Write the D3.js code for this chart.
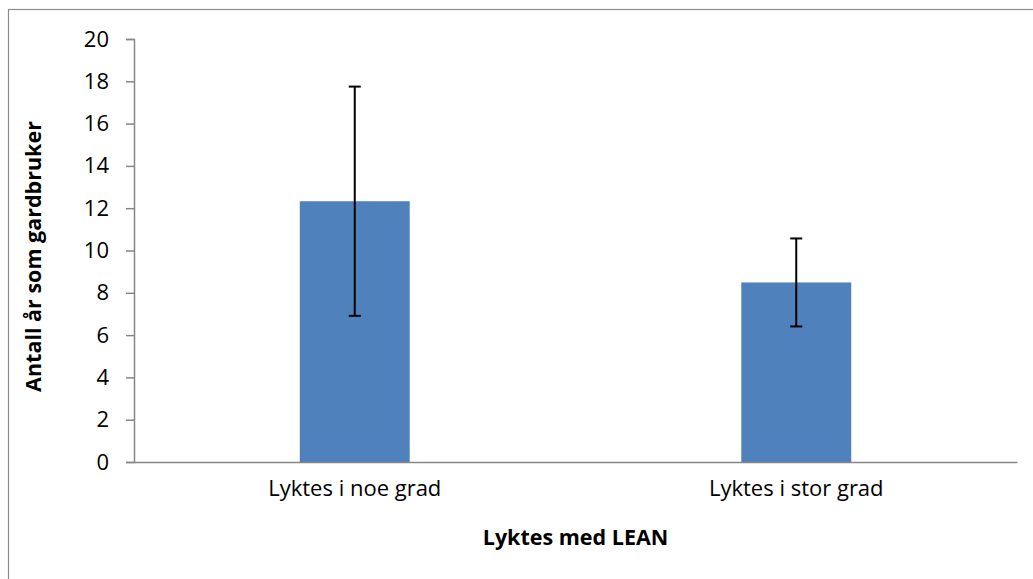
<!DOCTYPE html>
<html><head><meta charset="utf-8">
<script src="https://cdn.jsdelivr.net/npm/d3@7"></script>
<style>html,body{margin:0;padding:0;background:#fff;}svg{display:block;}</style>
</head><body>
<svg id="chart" width="1033" height="579"></svg>
<script>
const categories = ["Lyktes i noe grad", "Lyktes i stor grad"];
const means = [12.33, 8.49];
const errors = [5.42, 2.08];
const yTicks = [0, 2, 4, 6, 8, 10, 12, 14, 16, 18, 20];
const yTitle = "Antall år som gardbruker";
const xTitle = "Lyktes med LEAN";

const W = 1033, H = 579;
const m = {left: 134, right: 16, top: 39, bottom: 117};
const font = "'Open Sans', sans-serif";
const fs = 22, fsb = 21.5;
const svg = d3.select("#chart");

svg.append("rect").attr("x", 8.5).attr("y", 9.5).attr("width", W + 10).attr("height", H + 10)
  .attr("fill", "#fff").attr("stroke", "#8c8c8c").attr("stroke-width", 1.2);

const x = d3.scaleBand().domain(categories).range([m.left, W - m.right]).padding(0);
const y = d3.scaleLinear().domain([0, 20]).range([H - m.bottom, m.top]);
const barW = x.bandwidth() * 0.249;

const g = svg.append("g");

// bars
g.selectAll("rect.bar").data(categories).join("rect").attr("class", "bar")
  .attr("x", d => x(d) + x.bandwidth() / 2 - barW / 2)
  .attr("width", barW)
  .attr("y", (d, i) => y(means[i]))
  .attr("height", (d, i) => y(0) - y(means[i]))
  .attr("fill", "#4f81bd");

// y axis
const yAxis = g.append("g").attr("transform", `translate(${m.left},0)`)
  .call(d3.axisLeft(y).tickValues(yTicks).tickSize(8).tickPadding(17).tickFormat(d3.format("d")));
yAxis.select(".domain").attr("stroke", "#868686").attr("stroke-width", 1.5);
yAxis.selectAll(".tick line").attr("stroke", "#868686").attr("stroke-width", 1.5);
yAxis.selectAll(".tick text").attr("font-family", font).attr("font-size", fs).attr("fill", "#000");

// x axis
const xAxis = g.append("g").attr("transform", `translate(0,${y(0)})`)
  .call(d3.axisBottom(x).tickSize(0).tickPadding(18));
xAxis.select(".domain").attr("stroke", "#868686").attr("stroke-width", 1.5);
xAxis.selectAll(".tick text").attr("font-family", font).attr("font-size", fs).attr("fill", "#000");

// error bars
const eb = g.append("g").attr("stroke", "#000").attr("stroke-width", 2);
categories.forEach((c, i) => {
  const cx = x(c) + x.bandwidth() / 2;
  eb.append("line").attr("x1", cx).attr("x2", cx).attr("y1", y(means[i] + errors[i])).attr("y2", y(means[i] - errors[i]));
  [means[i] + errors[i], means[i] - errors[i]].forEach(v => {
    eb.append("line").attr("x1", cx - 6).attr("x2", cx + 6).attr("y1", y(v)).attr("y2", y(v));
  });
});

// titles
svg.append("text").attr("x", (m.left + W - m.right) / 2).attr("y", 545)
  .attr("text-anchor", "middle").attr("font-family", font).attr("font-weight", "bold").attr("font-size", fsb)
  .text(xTitle);
svg.append("text").attr("transform", `translate(41,${(m.top + H - m.bottom) / 2 + 6}) rotate(-90)`)
  .attr("text-anchor", "middle").attr("font-family", font).attr("font-weight", "bold").attr("font-size", fsb)
  .text(yTitle);
</script>
</body></html>
